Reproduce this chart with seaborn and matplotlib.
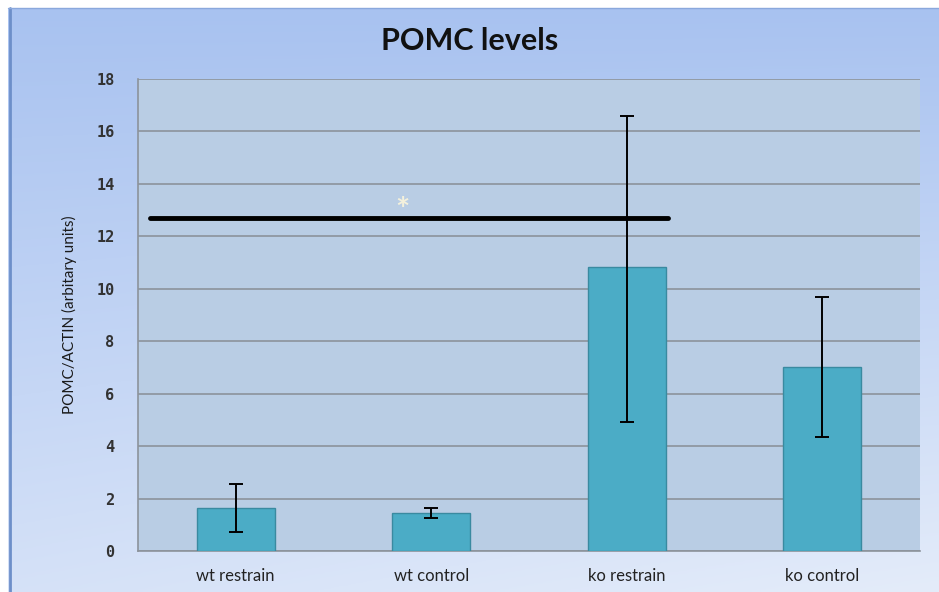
import numpy as np
import pandas as pd
import matplotlib
matplotlib.use('Agg')
import matplotlib.pyplot as plt
import seaborn as sns

# values
groups = ['wt restrain', 'wt control', 'ko restrain', 'ko control']
pomc = [1.64, 1.45, 10.84, 7.02]
err_top = [2.56, 1.65, 16.6, 9.69]
err_bottom = [0.73, 1.25, 4.92, 4.35]
sig_level = 12.7
sig_from, sig_to = 'wt restrain', 'ko restrain'

df = pd.DataFrame({'group': groups, 'pomc': pomc})

sns.set_theme(style='white')
plt.rcParams['font.family'] = ['Lato', 'DejaVu Sans']

fig = plt.figure(figsize=(9.39, 5.92), dpi=100)
fig.patch.set_facecolor('white')

# gradient backdrop like the office chart frame
bg = fig.add_axes([0.009, 0.0, 0.991, 0.987])
yy, xx = np.mgrid[0:1:200j, 0:1:200j]
top_col = np.array([168, 194, 240]) / 255
bot_col = np.array([228, 236, 250]) / 255
t = np.clip(0.75 * yy + 0.25 * xx * yy, 0, 1)[..., None]
grad = top_col * (1 - t) + bot_col * t
bg.imshow(grad, aspect='auto', extent=[0, 1, 1, 0])
bg.set_axis_off()
fig.add_artist(plt.Line2D([0.011, 0.011], [0, 0.987], color='#6d8fc9', lw=2))
fig.add_artist(plt.Line2D([0.009, 1], [0.986, 0.986], color='#8aa8dc', lw=1))

ax = fig.add_axes([138 / 939, 1 - 551 / 592, (920 - 138) / 939, (551 - 79) / 592])
ax.set_facecolor('#b9cde4')

sns.barplot(data=df, x='group', y='pomc', color='#4bacc6', width=0.4,
            edgecolor='#3a8aa0', linewidth=1, saturation=1, ax=ax, zorder=3)

x = np.arange(len(groups))
lo = np.array(pomc) - np.array(err_bottom)
hi = np.array(err_top) - np.array(pomc)
ax.errorbar(x, pomc, yerr=[lo, hi], fmt='none', ecolor='black',
            elinewidth=1.4, capsize=5, capthick=1.4, zorder=4)

# significance bar
i0 = groups.index(sig_from)
i1 = groups.index(sig_to)
ax.plot([i0 - 0.44, i1 + 0.21], [sig_level, sig_level], color='black', lw=3.5,
        solid_capstyle='round', zorder=5)
ax.text(0.85, sig_level + 0.25, '*', color='#f4f1dc',
        fontsize=24, ha='center', va='center', fontweight='bold', zorder=5)

ax.set_ylim(0, 18)
ax.set_xlim(-0.5, 3.5)
ax.set_yticks(range(0, 19, 2))
ax.yaxis.grid(True, color='#8c939b', lw=1.2)
ax.set_axisbelow(True)
for side in ['top', 'right']:
    ax.spines[side].set_visible(False)
ax.spines['left'].set_color('#8c939b')
ax.spines['bottom'].set_color('#8c939b')
ax.spines['left'].set_linewidth(1.2)
ax.spines['bottom'].set_linewidth(1.2)

ax.set_xticks(x)
ax.set_xticklabels(groups, fontsize=12, color='#222222')
ax.set_xticks(np.arange(-0.5, 4, 1), minor=True)
ax.tick_params(axis='x', which='major', length=0, pad=12)
ax.tick_params(axis='x', which='minor', length=6, color='#8c939b', width=1.2)
ax.tick_params(axis='y', length=7, color='#8c939b', width=1.2, pad=10,
               labelsize=11, labelcolor='#333333')
for lab in ax.get_yticklabels():
    lab.set_fontfamily('DejaVu Sans Mono')
    lab.set_fontweight('bold')

ax.set_xlabel('')
ax.set_ylabel('POMC/ACTIN (arbitary units)', fontsize=11, color='#1a1a1a',
              labelpad=14)
fig.text(0.5, 0.93, 'POMC levels', ha='center', va='center',
         fontsize=22, fontweight='bold', color='#111111')

fig.savefig('out.png', dpi=100)
